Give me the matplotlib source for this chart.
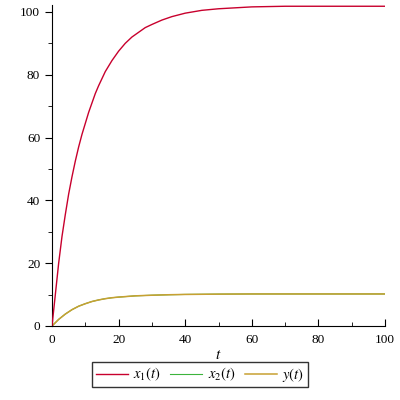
import matplotlib
matplotlib.use('Agg')
import matplotlib.pyplot as plt
from matplotlib.ticker import MultipleLocator

plt.rcParams['font.family'] = ['Liberation Serif', 'DejaVu Serif']
plt.rcParams['mathtext.fontset'] = 'stix'

# values
t_x1 = [0, 1, 2, 3, 4, 5, 6, 7, 8, 9, 10, 11, 12, 13, 14, 16, 18, 20, 22, 24, 26, 28, 30, 33, 36, 40,
        45, 50, 55, 60, 70, 80, 90, 100]
x1 = [0, 10, 20, 28.5, 35.5, 42, 47.5, 52.5, 57, 61, 64.5, 68, 71, 74, 76.5, 81, 84.5, 87.5, 90, 92,
      93.5, 95, 96, 97.4, 98.5, 99.6, 100.5, 101, 101.3, 101.6, 101.8, 101.8, 101.8, 101.8]

t_y = [0, 2, 4, 6, 8, 10, 12, 14, 16, 18, 20, 25, 30, 35, 40, 50, 60, 80, 100]
y = [0, 2.1, 3.8, 5.2, 6.3, 7.1, 7.8, 8.3, 8.7, 9.0, 9.2, 9.6, 9.8, 9.95, 10.05, 10.15, 10.2, 10.2, 10.2]
x2 = [0, 2.1, 3.8, 5.2, 6.3, 7.1, 7.8, 8.3, 8.7, 9.0, 9.2, 9.6, 9.8, 9.95, 10.05, 10.15, 10.2, 10.2, 10.2]

fig = plt.figure(figsize=(4, 4), dpi=100)
ax = fig.add_axes([0.13, 0.185, 0.8325, 0.8025])

ax.plot(t_x1, x1, color='#C8002D', lw=1, label=r'$x_1(t)$', zorder=3)
ax.plot(t_y, x2, color='#3CB43C', lw=0.8, label=r'$x_2(t)$', zorder=1)
ax.plot(t_y, y, color='#C8A032', lw=1.1, label=r'$y(t)$', zorder=2)

ax.set_xlim(0, 100)
ax.set_ylim(0, 102.2)
ax.spines['top'].set_visible(False)
ax.spines['right'].set_visible(False)
ax.xaxis.set_major_locator(MultipleLocator(20))
ax.xaxis.set_minor_locator(MultipleLocator(10))
ax.yaxis.set_major_locator(MultipleLocator(20))
ax.yaxis.set_minor_locator(MultipleLocator(10))
ax.tick_params(axis='x', which='both', direction='in', labelsize=9.5, pad=6)
ax.tick_params(axis='x', which='major', length=5)
ax.tick_params(axis='x', which='minor', length=3)
ax.tick_params(axis='y', which='both', direction='out', labelsize=9.5)
ax.tick_params(axis='y', which='major', length=5)
ax.tick_params(axis='y', which='minor', length=3)
ax.set_xlabel(r'$t$', fontsize=11, labelpad=2)

leg = fig.legend(loc='upper center', bbox_to_anchor=(0.5, 0.095), ncol=3, fontsize=10.5,
                 frameon=True, fancybox=False, edgecolor='black', handlelength=2.2,
                 columnspacing=0.6, handletextpad=0.4, borderpad=0.25, borderaxespad=0)
leg.get_frame().set_linewidth(1)

fig.savefig('out.png', dpi=100)
